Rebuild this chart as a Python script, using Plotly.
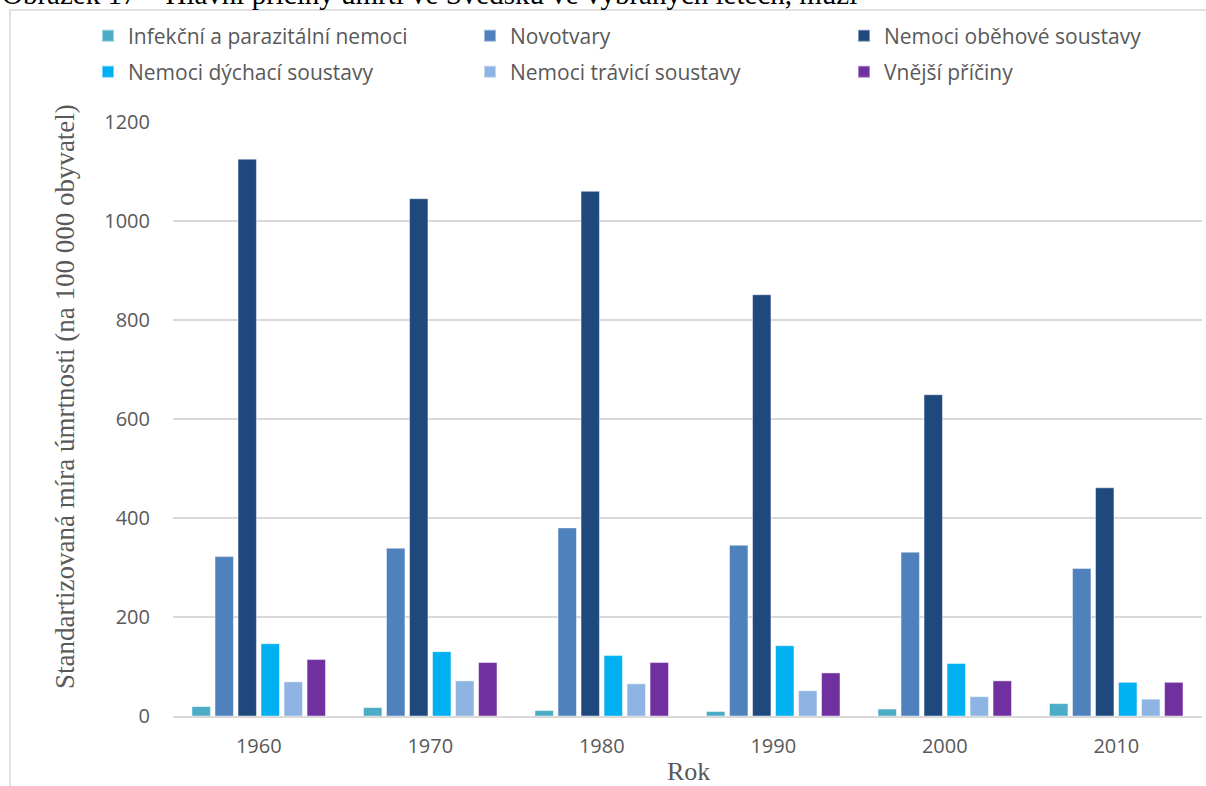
import plotly.graph_objects as go

# Roky a standardizovaná míra úmrtnosti (na 100 000 obyvatel) podle příčin
roky = ["1960", "1970", "1980", "1990", "2000", "2010"]

infekcni = [19, 17, 11, 9, 14, 25]
novotvary = [322, 339, 380, 345, 331, 298]
obehove = [1125, 1045, 1060, 851, 649, 461]
dychaci = [146, 130, 122, 142, 106, 68]
traveni = [69, 71, 65, 51, 39, 34]
vnejsi = [114, 108, 108, 87, 71, 68]

nazvy = [
    "Infekční a parazitální nemoci",
    "Novotvary",
    "Nemoci oběhové soustavy",
    "Nemoci dýchací soustavy",
    "Nemoci trávicí soustavy",
    "Vnější příčiny",
]
barvy = ["#4bacc6", "#4f81bd", "#1f497d", "#00b0f0", "#8eb4e3", "#7030a0"]
rady = [infekcni, novotvary, obehove, dychaci, traveni, vnejsi]

# pixel geometry of the plotting area
W, H = 1206, 786
L, R, T, B = 173, 4, 122, 70
pw, ph = W - L - R, H - T - B


def px(x):
    return (x - L) / pw


def py(y):
    return (H - B - y) / ph


# legend grid: three columns, two rows (left edge of each entry, row centre)
sloupce = [88, 470, 844]
radky = [36, 72]

sans = "Open Sans"
serif = "Liberation Serif"
seda = "#595959"

fig = go.Figure()
legendy = {}
for i, (nazev, barva, hodnoty) in enumerate(zip(nazvy, barvy, rady)):
    klic = "legend" if i == 0 else f"legend{i + 1}"
    fig.add_trace(go.Bar(
        x=roky, y=hodnoty, name=nazev, legend=klic,
        marker=dict(color=barva, line=dict(color="rgba(255,255,255,0.45)", width=1)),
    ))
    legendy[klic] = dict(
        orientation="h", xanchor="left", yanchor="middle",
        x=px(sloupce[i % 3]), y=py(radky[i // 3]),
        font=dict(family=sans, size=21, color=seda),
        itemsizing="constant", bgcolor="rgba(0,0,0,0)",
    )

fig.update_layout(
    width=W, height=H,
    margin=dict(l=L, r=R, t=T, b=B),
    paper_bgcolor="white", plot_bgcolor="white",
    barmode="group", bargap=0.195, bargroupgap=0.2,
    font=dict(family=sans, size=19, color=seda),
    showlegend=True,
    xaxis=dict(
        type="category", showgrid=False, ticks="",
        showline=True, linecolor="#d9d9d9", linewidth=2,
        ticklabelstandoff=11,
        tickfont=dict(family=sans, size=20, color=seda),
    ),
    yaxis=dict(
        range=[0, 1200], dtick=200, showgrid=True, gridcolor="#d9d9d9", gridwidth=1.5,
        zeroline=False, showline=False, ticks="", ticklabelstandoff=22,
        tickfont=dict(family=sans, size=20, color=seda),
    ),
    **legendy,
)

# vnější rámeček grafu
fig.add_shape(type="rect", xref="paper", yref="paper",
              x0=px(10), x1=px(1212), y0=py(800), y1=py(10),
              line=dict(color="#d9d9d9", width=1.5), layer="below")

# popisky os
fig.add_annotation(text="Standartizovaná míra úmrtnosti (na 100 000 obyvatel)",
                   xref="paper", yref="paper", x=px(65), y=py(397),
                   xanchor="center", yanchor="middle",
                   textangle=-90, showarrow=False,
                   font=dict(family=serif, size=27, color=seda))
fig.add_annotation(text="Rok", xref="paper", yref="paper", x=px(688), y=py(771),
                   xanchor="center", yanchor="middle",
                   showarrow=False, font=dict(family=serif, size=26, color=seda))

# nadpis obrázku nad grafem
fig.add_annotation(text="Obrázek 17 – Hlavní příčiny úmrtí ve Švédsku ve vybraných letech, muži",
                   xref="paper", yref="paper", x=px(0), y=py(12),
                   xanchor="left", yanchor="bottom", showarrow=False,
                   font=dict(family=serif, size=29, color="black"))

fig.write_html("out.html")
